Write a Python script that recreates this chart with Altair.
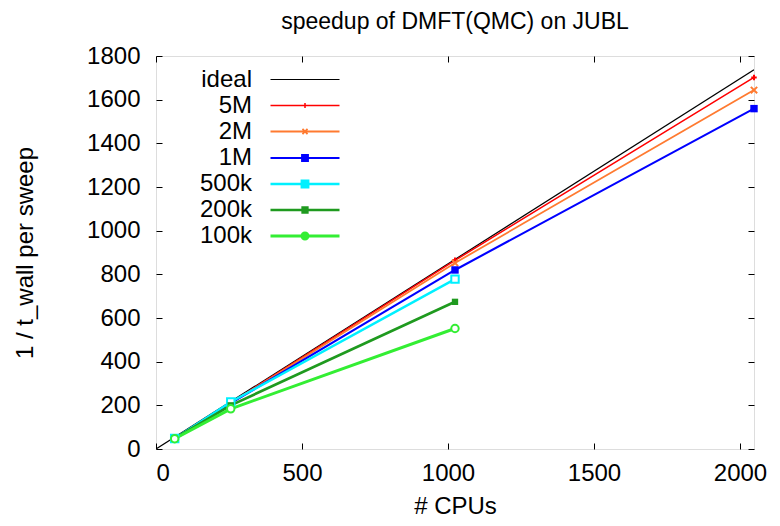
import altair as alt
import pandas as pd

# ---------------- data ----------------
series_names = ["ideal", "5M", "2M", "1M", "500k", "200k", "100k"]
cpus = [64, 256, 1024, 2048]
ideal_cpus = [0, 2048]
ideal_vals = [0, 1737]
v5M = [48, 212, 864, 1702]
v2M = [48, 210, 852, 1644]
v1M = [48, 210, 820, 1559]
v500k = [48, 215, 778, None]
v200k = [48, 200, 674, None]
v100k = [47, 184, 552, None]

x_ticks = [0, 500, 1000, 1500, 2000]
y_ticks = [0, 200, 400, 600, 800, 1000, 1200, 1400, 1600, 1800]

colors = ["#000000", "#ff0000", "#ff7a30", "#0000ff", "#00f0ff", "#1f9a1f", "#33ee33"]
fills = ["#000000", "#ff0000", "#ff7a30", "#0000ff", "#ffffff", "#1f9a1f", "#ffffff"]
widths = [1.2, 3.0, 2.0, 3.0, 2.4, 2.0, 2.0]

legend_paths = [
    "M-3,0H3",
    "M-3,0H3M0,-0.22V0.22",
    "M-3,0H3M-0.22,-0.22L0.22,0.22M-0.22,0.22L0.22,-0.22",
    "M-3,0H3M-0.25,-0.25H0.25V0.25H-0.25Z",
    "M-3,0H3M-0.28,-0.28H0.28V0.28H-0.28ZM-0.12,-0.12V0.12H0.12V-0.12Z",
    "M-3,0H3M-0.2,-0.2H0.2V0.2H-0.2Z",
    "M-3,0H3M0.26,0A0.26,0.26 0 1,1 -0.26,0A0.26,0.26 0 1,1 0.26,0Z"
    "M0.1,0A0.1,0.1 0 1,0 -0.1,0A0.1,0.1 0 1,0 0.1,0Z",
]

rows = []
for xv, yv in zip(ideal_cpus, ideal_vals):
    rows.append({"series": "ideal", "cpus": xv, "val": yv})
for name, vals in [("5M", v5M), ("2M", v2M), ("1M", v1M),
                   ("500k", v500k), ("200k", v200k), ("100k", v100k)]:
    for xv, yv in zip(cpus, vals):
        if yv is not None:
            rows.append({"series": name, "cpus": xv, "val": yv})
df = pd.DataFrame(rows)

FONT = "Liberation Sans"

xs = alt.Scale(domain=[0, 2048], nice=False, zero=False)
ys = alt.Scale(domain=[0, 1800], nice=False)
color_scale = alt.Scale(domain=series_names, range=colors)
fill_scale = alt.Scale(domain=series_names, range=fills)
width_scale = alt.Scale(domain=series_names, range=widths)
shape_scale = alt.Scale(domain=series_names, range=legend_paths)

base = alt.Chart(df)

x_bottom = alt.Axis(values=x_ticks, format="d", orient="bottom", offset=-6, tickSize=6,
                    domain=False, grid=False, title="# CPUs", labelFontSize=24, titleFontSize=24,
                    labelPadding=12, titlePadding=9, labelFont=FONT, titleFont=FONT,
                    titleFontWeight="normal", labelColor="black", titleColor="black",
                    tickColor="black", tickWidth=1)
y_left = alt.Axis(values=y_ticks, format="d", orient="left", offset=-6, tickSize=6,
                  domain=False, grid=False, title="1 / t_wall per sweep", labelFontSize=24,
                  titleFontSize=24, labelPadding=16, titlePadding=49, labelFont=FONT,
                  titleFont=FONT, titleFontWeight="normal", labelColor="black",
                  titleColor="black", tickColor="black", tickWidth=1)
x_top = alt.Axis(values=x_ticks, orient="top", offset=-6, tickSize=6, domain=False,
                 grid=False, labels=False, title=None, tickColor="black", tickWidth=1)
y_right = alt.Axis(values=y_ticks, orient="right", offset=-6, tickSize=6, domain=False,
                   grid=False, labels=False, title=None, tickColor="black", tickWidth=1)

leg = alt.Legend(title=None, orient="none", legendX=136, legendY=11, labelAlign="right",
                 labelOffset={"expr": "-66"}, labelFontSize=24, labelFont=FONT,
                 labelColor="black", symbolSize=529, padding=0, rowPadding=1,
                 labelLimit=300, symbolOpacity=1)

# legend-only layer (draws no data marks); placed first so its legend wins the merge
legend_layer = base.transform_filter("datum.cpus < 0").mark_point(opacity=1, filled=False).encode(
    x=alt.X("cpus:Q", scale=xs, axis=x_top),
    y=alt.Y("val:Q", scale=ys, axis=y_right),
    color=alt.Color("series:N", scale=color_scale, legend=leg),
    fill=alt.Fill("series:N", scale=fill_scale, legend=leg),
    shape=alt.Shape("series:N", scale=shape_scale, legend=leg),
    strokeWidth=alt.StrokeWidth("series:N", scale=width_scale, legend=leg),
)

lines = base.mark_line(clip=True).encode(
    x=alt.X("cpus:Q", scale=xs, axis=x_bottom),
    y=alt.Y("val:Q", scale=ys, axis=y_left),
    color=alt.Color("series:N", scale=color_scale, legend=None),
    strokeWidth=alt.StrokeWidth("series:N", scale=width_scale, legend=None),
    detail="series:N",
)

marker_specs = [
    ("5M", dict(shape="M-1,0H1M0,-1V1", size=30, filled=False, strokeWidth=2)),
    ("2M", dict(shape="M-1,-1L1,1M-1,1L1,-1", size=40, filled=False, strokeWidth=2)),
    ("1M", dict(shape="square", size=55, filled=True)),
    ("500k", dict(shape="square", size=55, filled=False, fill="white", strokeWidth=2)),
    ("200k", dict(shape="square", size=40, filled=True)),
    ("100k", dict(shape="circle", size=55, filled=False, fill="white", strokeWidth=2)),
]
point_layers = []
for name, spec in marker_specs:
    point_layers.append(
        base.transform_filter(alt.datum.series == name).mark_point(opacity=1, **spec).encode(
            x=alt.X("cpus:Q", scale=xs, axis=None),
            y=alt.Y("val:Q", scale=ys, axis=None),
            color=alt.Color("series:N", scale=color_scale, legend=None),
        )
    )

chart = alt.layer(legend_layer, lines, *point_layers).resolve_axis(
    x="independent", y="independent"
).properties(
    width=764, height=510,
    autosize=alt.AutoSizeParams(type="fit", contains="padding"),
    padding={"left": 5, "top": 3, "right": 9, "bottom": 0},
    title=alt.TitleParams("speedup of DMFT(QMC) on JUBL", fontSize=23, font=FONT,
                          fontWeight="normal", color="black", offset=10, anchor="middle"),
).configure_view(stroke="black", strokeWidth=1.5).configure(background="white")

chart.save("out.html", embed_options={"renderer": "svg", "actions": False})
